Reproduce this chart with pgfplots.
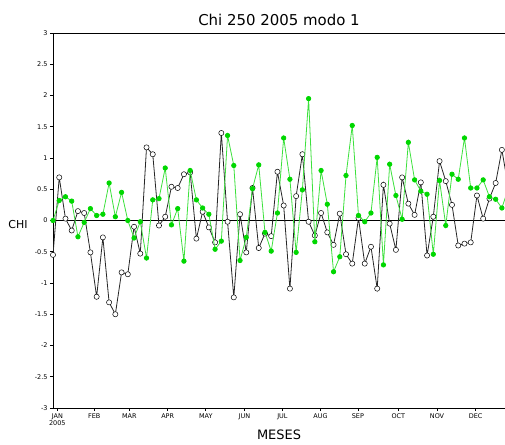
\documentclass[border=0pt]{standalone}
\usepackage{pgfplots}
\pgfplotsset{compat=1.18}
\usepackage{fontspec}
\setmainfont{DejaVu Sans}
\definecolor{grgreen}{RGB}{0,215,0}
\definecolor{grline}{RGB}{60,225,60}
\begin{document}
\begin{tikzpicture}
\useasboundingbox (-53bp,-37bp) rectangle (452bp,408bp);
\begin{axis}[
  at={(0,0)}, anchor=south west,
  scale only axis, width=452bp, height=375bp,
  xmin=0, xmax=72.5, ymin=-3, ymax=3,
  axis line style={line width=0.9bp},
  ytick={-3,-2.5,-2,-1.5,-1,-0.5,0,0.5,1,1.5,2,2.5,3},
  yticklabels={-3,-2.5,-2,-1.5,-1,-0.5,0,0.5,1,1.5,2,2.5,3},
  xtick={0.7,6.62,12.24,18.4,24.5,30.7,36.8,42.9,48.9,55.4,61.6,67.8},
  xticklabels={JAN\\2005,FEB,MAR,APR,MAY,JUN,JUL,AUG,SEP,OCT,NOV,DEC},
  tick align=outside, major tick length=3bp,
  tick style={black, line width=0.6bp},
  ytick pos=left, xtick pos=bottom,
  yticklabel style={font=\fontsize{6.5}{7}\selectfont, xshift=1bp},
  xticklabel style={font=\fontsize{6.5}{7}\selectfont, align=center, yshift=1bp},
  /pgf/number format/assume math mode=true,
  clip mode=individual,
]
\pgfplotstableread{
i b g
0 -0.55 0.00
1 0.69 0.32
2 0.03 0.38
3 -0.16 0.31
4 0.15 -0.26
5 0.12 -0.03
6 -0.51 0.19
7 -1.22 0.08
8 -0.27 0.10
9 -1.31 0.60
10 -1.50 0.06
11 -0.83 0.45
12 -0.86 0.00
13 -0.10 -0.28
14 -0.53 -0.02
15 1.17 -0.60
16 1.06 0.33
17 -0.08 0.35
18 0.06 0.84
19 0.54 -0.07
20 0.52 0.19
21 0.74 -0.65
22 0.77 0.80
23 -0.29 0.33
24 0.14 0.20
25 -0.11 0.10
26 -0.35 -0.46
27 1.40 -0.33
28 -0.02 1.36
29 -1.23 0.88
30 0.10 -0.64
31 -0.51 -0.27
32 0.52 0.51
33 -0.44 0.89
34 -0.21 -0.19
35 -0.25 -0.49
36 0.78 0.12
37 0.24 1.32
38 -1.09 0.66
39 0.39 -0.51
40 1.06 0.49
41 -0.02 1.95
42 -0.24 -0.34
43 0.12 0.80
44 -0.19 0.26
45 -0.39 -0.82
46 0.11 -0.58
47 -0.54 0.72
48 -0.69 1.52
49 0.04 0.08
50 -0.69 -0.02
51 -0.42 0.12
52 -1.09 1.01
53 0.57 -0.71
54 -0.05 0.90
55 -0.47 0.40
56 0.69 0.02
57 0.27 1.25
58 0.09 0.65
59 0.61 0.47
60 -0.56 0.42
61 0.06 -0.54
62 0.95 0.64
63 0.63 -0.08
64 0.25 0.74
65 -0.40 0.66
66 -0.37 1.32
67 -0.35 0.52
68 0.40 0.52
69 0.03 0.65
70 0.35 0.38
71 0.60 0.34
72 1.13 0.20
73 0.55 0.50
}\datatable
\addplot[black, line width=0.7bp] coordinates {(0,0) (72.5,0)};
\addplot[black!85, line width=0.8bp, mark=*, mark size=2.6bp,
  mark options={fill=white, draw=black, line width=0.5bp}] table[x=i, y=b] {\datatable};
\addplot[grline, line width=0.8bp, mark=*, mark size=2.2bp,
  mark options={fill=grgreen, draw=grgreen}] table[x=i, y=g] {\datatable};
\node[anchor=base, font=\fontsize{15}{16}\selectfont] at (rel axis cs:0.5,1) [yshift=8bp] {Chi 250 2005 modo 1};
\node[anchor=base, font=\fontsize{13}{14}\selectfont] at (rel axis cs:0.5,0) [yshift=-32bp] {MESES};
\node[anchor=center, font=\fontsize{11}{12}\selectfont] at (rel axis cs:0,0.49) [xshift=-35bp] {CHI};
\end{axis}
\end{tikzpicture}
\end{document}
